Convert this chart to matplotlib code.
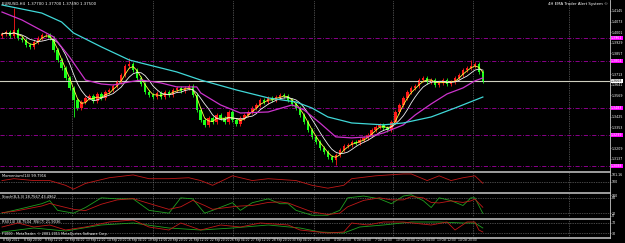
import numpy as np
import pandas as pd
import matplotlib
matplotlib.use('Agg')
import matplotlib.pyplot as plt
from matplotlib.lines import Line2D
from matplotlib.transforms import blended_transform_factory

# EURUSD H4 closes (one per candle)
closes = [
    1.3988, 1.4002, 1.3975, 1.4015, 1.3961, 1.3947, 1.3913, 1.3900, 1.3934, 1.3961,
    1.3981, 1.3981, 1.3961, 1.3879, 1.3811, 1.3756, 1.3688, 1.3620, 1.3538, 1.3483,
    1.3524, 1.3552, 1.3565, 1.3530, 1.3579, 1.3550, 1.3593, 1.3606, 1.3633, 1.3661,
    1.3709, 1.3770, 1.3784, 1.3743, 1.3688, 1.3647, 1.3593, 1.3572, 1.3558, 1.3586,
    1.3558, 1.3593, 1.3572, 1.3606, 1.3620, 1.3598, 1.3620, 1.3633, 1.3572, 1.3470,
    1.3402, 1.3368, 1.3415, 1.3388, 1.3436, 1.3415, 1.3388, 1.3456, 1.3402, 1.3374,
    1.3415, 1.3436, 1.3456, 1.3483, 1.3504, 1.3538, 1.3524, 1.3552, 1.3538, 1.3558,
    1.3572, 1.3565, 1.3538, 1.3511, 1.3483, 1.3436, 1.3388, 1.3333, 1.3286, 1.3252,
    1.3211, 1.3183, 1.3149, 1.3129, 1.3163, 1.3197, 1.3224, 1.3231, 1.3252, 1.3245,
    1.3265, 1.3279, 1.3299, 1.3333, 1.3354, 1.3368, 1.3347, 1.3333, 1.3388, 1.3456,
    1.3504, 1.3552, 1.3593, 1.3620, 1.3633, 1.3674, 1.3688, 1.3661, 1.3674, 1.3640,
    1.3654, 1.3674, 1.3647, 1.3661, 1.3688, 1.3709, 1.3743, 1.3756, 1.3770, 1.3784,
    1.3729, 1.3668,
]
first_open = 1.3975
typical_wick = 0.0014
spike_high = {3: 1.4165, 32: 1.3824, 118: 1.3811}
spike_low = {18: 1.3422, 84: 1.3095}

# slow moving averages (candle index, price)
magenta_x = [0, 5, 13, 17, 21, 25, 28, 32, 35, 40, 44, 49, 50, 55, 60, 67, 73, 76, 80,
             84, 88, 92, 96, 101, 104, 108, 112, 116, 119, 121]
magenta_y = [1.4138, 1.4084, 1.3968, 1.3831, 1.3674, 1.3647, 1.3640, 1.3661, 1.3674,
             1.3654, 1.3627, 1.3627, 1.3586, 1.3504, 1.3449, 1.3456, 1.3504, 1.3470,
             1.3381, 1.3286, 1.3279, 1.3286, 1.3313, 1.3368, 1.3436, 1.3511, 1.3579,
             1.3620, 1.3668, 1.3688]
cyan_x = [0, 10, 15, 18, 25, 32, 35, 39, 44, 50, 59, 67, 74, 78, 82, 88, 96, 101, 108, 114, 121]
cyan_y = [1.4186, 1.4131, 1.4070, 1.3995, 1.3900, 1.3811, 1.3790, 1.3763, 1.3729, 1.3674,
          1.3606, 1.3552, 1.3524, 1.3483, 1.3422, 1.3381, 1.3368, 1.3381, 1.3422, 1.3483, 1.3558]

# horizontal levels drawn on the chart
levels = [1.3961, 1.3804, 1.3483, 1.3299, 1.3088]
last_price = 1.3668
price_ticks = [1.4145, 1.4073, 1.4001, 1.3929, 1.3857, 1.3785, 1.3713, 1.3641,
               1.3569, 1.3497, 1.3425, 1.3353, 1.3281, 1.3209, 1.3137]

# Momentum(14)
mom_x = [0, 3, 8, 12, 16, 18, 21, 27, 33, 37, 42, 47, 50, 53, 58, 63, 67, 74, 78, 82,
         86, 88, 94, 101, 103, 107, 110, 113, 116, 119, 121]
mom_v = [100.24, 100.55, 100.24, 100.24, 99.45, 98.81, 99.76, 100.71, 101.18, 100.55,
         100.55, 100.71, 100.24, 99.45, 101.03, 100.24, 100.55, 100.24, 99.45, 98.97,
         99.45, 100.55, 101.03, 101.34, 101.34, 100.24, 101.03, 100.24, 100.71, 101.03, 99.79]

# Stochastic(8,3,3)
sto_x = [0, 3, 6, 10, 12, 14, 18, 21, 25, 29, 33, 37, 42, 45, 48, 51, 53, 58, 60, 63,
         67, 70, 72, 74, 78, 82, 85, 87, 91, 95, 98, 101, 103, 106, 108, 110, 113, 116,
         118, 119, 121]
sto_k = [20, 31, 42, 57, 69, 31, 20, 42, 80, 76, 76, 31, 20, 80, 76, 20, 31, 61, 31, 61,
         76, 57, 57, 31, 12, 12, 31, 80, 87, 76, 57, 87, 92, 69, 42, 80, 69, 50, 80, 80, 19]
sto_d = [22, 27, 36, 48, 58, 50, 35, 30, 55, 72, 77, 58, 35, 45, 70, 50, 35, 45, 48, 50,
         62, 64, 60, 48, 25, 15, 20, 45, 70, 80, 72, 72, 85, 80, 62, 60, 68, 62, 68, 75, 43]

# RSI pair
rsi_a_x = [0, 4, 8, 12, 16, 21, 27, 33, 37, 42, 45, 50, 55, 60, 65, 72, 75, 82, 86, 88,
           92, 96, 101, 108, 112, 114, 117, 119, 120, 121]
rsi_a_v = [53.9, 69.4, 53.9, 61.7, 42.2, 53.9, 73.3, 81.1, 53.9, 42.2, 69.4, 42.2, 61.7,
           53.9, 69.4, 61.7, 42.2, 30.5, 34.4, 69.4, 61.7, 73.3, 73.3, 61.7, 73.3, 42.2,
           73.3, 73.3, 42.2, 34.4]
rsi_b_x = [0, 8, 16, 25, 33, 42, 50, 58, 67, 75, 80, 86, 90, 96, 103, 110, 116, 119, 121]
rsi_b_v = [34.4, 50, 38.3, 61.7, 69.4, 50, 42.2, 50, 61.7, 50, 34.4, 30.5, 53.9, 61.7,
           73.3, 73.3, 69.4, 69.4, 50]

date_labels = ["8 Sep 2011", "8 Sep 20:00", "9 Sep 12:00", "12 Sep 04:00", "13 Sep 12:00",
               "14 Sep 20:00", "16 Sep 04:00", "19 Sep 12:00", "20 Sep 20:00", "21 Sep 12:00",
               "22 Sep 20:00", "26 Sep 04:00", "27 Sep 12:00", "28 Sep 20:00", "30 Sep 04:00",
               "3 Oct 12:00", "4 Oct 20:00", "6 Oct 04:00", "7 Oct 12:00", "10 Oct 20:00",
               "12 Oct 04:00", "13 Oct 12:00", "14 Oct 20:00"]
grid_x = [17.7, 38.0, 58.2, 78.5, 98.5, 118.5, 142.8]

W, H = 625, 243
AXR = 610
fig = plt.figure(figsize=(W / 100, H / 100), dpi=100, facecolor='black')


def pane(top, bottom):
    a = fig.add_axes([0, 1 - bottom / H, AXR / W, (bottom - top) / H])
    a.set_facecolor('black')
    for s in a.spines.values():
        s.set_visible(False)
    a.set_xlim(-0.5, 153.0)
    a.tick_params(axis='x', bottom=False, labelbottom=False)
    a.yaxis.tick_right()
    a.tick_params(axis='y', colors='#c8c8c8', labelcolor='white', labelsize=2.3,
                  length=0.8, width=0.4, pad=0.4)
    for g in grid_x:
        a.axvline(g, color='#8c8c8c', ls=(0, (1, 1.5)), lw=0.5)
    return a


ax = pane(0, 170)
ax1 = pane(173, 191)
ax2 = pane(194, 217)
ax3 = pane(219, 237)

# main chart
c = np.array(closes)
o = np.array([first_open] + closes[:-1])
idx = np.arange(len(c))
hi = np.maximum(o, c) + typical_wick
lo = np.minimum(o, c) - typical_wick
for k, v in spike_high.items():
    hi[k] = v
for k, v in spike_low.items():
    lo[k] = v
cols = np.where(c >= o, '#ff1a1a', '#1aff1a')

ax.set_ylim(1.3060, 1.4220)
for lv in levels:
    ax.axhline(lv, color='#a000a0', ls=(0, (5, 2, 1, 2)), lw=0.6)
ax.axhline(last_price, color='#cfcfbf', lw=0.8)

ax.vlines(idx, lo, hi, colors=cols, lw=0.6)
ax.bar(idx, np.maximum(np.abs(c - o), 0.0003), bottom=np.minimum(o, c), width=0.6,
       color=cols, lw=0)

s = pd.Series(c)
ax.plot(idx, s.rolling(3, min_periods=1).mean(), color='#ffff40', lw=0.6)
ax.plot(idx, s.rolling(6, min_periods=1).mean(), color='#f0f0f0', lw=0.6)
ax.plot(magenta_x, magenta_y, color='#cc33cc', lw=0.9)
ax.plot(cyan_x, cyan_y, color='#40d8d8', lw=0.9)

# keep price ticks clear of the level tags
tags = levels + [last_price]
shown = [t for t in price_ticks if min(abs(t - g) for g in tags) > 0.0020]
ax.set_yticks(shown)
ax.set_yticklabels([f'{t:.4f}' for t in shown])
ytr = ax.get_yaxis_transform()
for lv in levels:
    ax.text(1.0015, lv, f'{lv:.4f}', transform=ytr, fontsize=2.3, color='white', va='center',
            ha='left', bbox=dict(boxstyle='square,pad=0.12', fc='#ff00ff', ec='none'))
ax.text(1.0015, last_price, f'{last_price:.4f}', transform=ytr, fontsize=2.3, color='black',
        va='center', ha='left', bbox=dict(boxstyle='square,pad=0.12', fc='white', ec='none'))

ax.text(0.004, 0.99, 'EURUSD,H4  1.37700 1.37700 1.37490 1.37500', transform=ax.transAxes,
        fontsize=2.8, color='white', va='top', ha='left')
ax.text(0.997, 0.99, '4H EMA Trader Alert System \u00a9', transform=ax.transAxes,
        fontsize=2.8, color='white', va='top', ha='right')

# momentum
ax1.set_ylim(98.5, 101.5)
ax1.axhline(100, color='#8c8c8c', ls=(0, (1, 1.5)), lw=0.5)
ax1.plot(mom_x, mom_v, color='#c01818', lw=0.6)
ax1.set_yticks([100, 101.2])
ax1.set_yticklabels(['100', '101.16'])
ax1.text(0.004, 0.95, 'Momentum(14) 99.7916', transform=ax1.transAxes, fontsize=2.6,
         color='white', va='top', ha='left')

# stochastic
ax2.set_ylim(5, 95)
for lv in (80, 20):
    ax2.axhline(lv, color='#8c8c8c', ls=(0, (1, 1.5)), lw=0.5)
ax2.plot(sto_x, sto_k, color='#20a020', lw=0.6)
ax2.plot(sto_x, sto_d, color='#c01818', lw=0.6)
ax2.set_yticks([90, 80, 20, 9])
ax2.set_yticklabels(['100', '80', '20', '0'])
ax2.text(0.004, 0.95, 'Stoch(8,3,3) 18.7567 43.4962', transform=ax2.transAxes, fontsize=2.6,
         color='white', va='top', ha='left')

# RSI
ax3.set_ylim(15, 85)
for lv in (70, 30):
    ax3.axhline(lv, color='#8c8c8c', ls=(0, (1, 1.5)), lw=0.5)
ax3.plot(rsi_b_x, rsi_b_v, color='#20a020', lw=0.6)
ax3.plot(rsi_a_x, rsi_a_v, color='#c01818', lw=0.6)
ax3.set_yticks([70, 30])
ax3.set_yticklabels(['70', '30'])
ax3.text(0.004, 0.95, 'RSI(14) 38.7504  RSI(7) 21.9036', transform=ax3.transAxes,
         fontsize=2.6, color='white', va='top', ha='left')
ax3.text(0.004, 0.06, 'F1000 - MetaTrader, \u00a9 2001-2011 MetaQuotes Software Corp.',
         transform=ax3.transAxes, fontsize=2.4, color='white', va='bottom', ha='left')

# window separators and axis frame
for y in (171.5, 192.5, 218.5, 237.5):
    fig.add_artist(Line2D([0, AXR / W], [1 - y / H] * 2, color='#c8c8c8', lw=1.1))
fig.add_artist(Line2D([AXR / W] * 2, [1, 1 - 237.5 / H], color='#c8c8c8', lw=0.6))

# time axis
tr = blended_transform_factory(ax3.transData, fig.transFigure)
for k, lab in enumerate(date_labels):
    xk = k * 5.2
    ax3.add_artist(Line2D([xk, xk], [1 - 237.5 / H, 1 - 239 / H], transform=tr,
                          color='#c8c8c8', lw=0.4))
    ax3.text(xk + 0.3, 1 - 240 / H, lab, transform=tr, fontsize=2.1, color='white',
             va='center', ha='left', clip_on=False)

fig.savefig('out.png', dpi=100, facecolor='black')
